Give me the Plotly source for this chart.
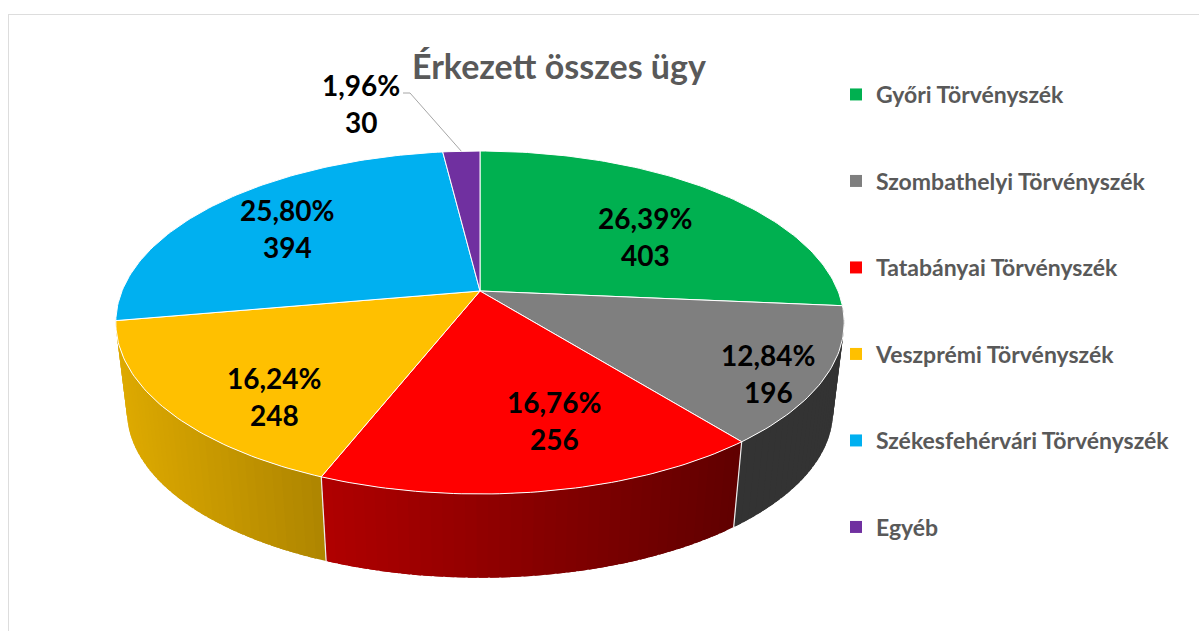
import math
import plotly.graph_objects as go

# ---- data ----
categories = ["Győri Törvényszék", "Szombathelyi Törvényszék", "Tatabányai Törvényszék",
              "Veszprémi Törvényszék", "Székesfehérvári Törvényszék", "Egyéb"]
values = [403, 196, 256, 248, 394, 30]
colors = ["#00B050", "#7F7F7F", "#FF0000", "#FFC000", "#00B0F0", "#7030A0"]
title_text = "Érkezett összes ügy"

# ---- side shading (left colour, right colour) per visible slice ----
side_shades = {1: ((0x33, 0x33, 0x33), (0x33, 0x33, 0x33)),
               2: ((0xB0, 0x00, 0x00), (0x60, 0x00, 0x00)),
               3: ((0xDE, 0xAA, 0x00), (0xAE, 0x85, 0x00))}

# ---- label anchor points, in the pixel-scaled axes ----
label_pos = [(645, 236), (768, 373), (554, 420), (274, 396), (287, 228), (361, 103)]
LABEL_GAP = 37

# ---- projection of the tilted disc ----
CX, CY = 480.0, 291.0
K = 0.1837
TOP_B, TOP_A = 358.0, 165.7
LOW_B, LOW_A, LOW_CY = 347.0, 160.6, 381.0


def project(theta, radius=1.0, lower=False):
    s, c = math.sin(theta) * radius, math.cos(theta) * radius
    w = 1 + K * c
    if lower:
        return CX + LOW_B * s / w, LOW_CY - LOW_A * c / w
    return CX + TOP_B * s / w, CY - TOP_A * c / w


total = sum(values)
edges = [0.0]
for v in values:
    edges.append(edges[-1] + v / total * 2 * math.pi)

fig = go.Figure()


def mix(a, b, t):
    t = min(1, max(0, t))
    return "rgb(%d,%d,%d)" % tuple(round(a[i] + (b[i] - a[i]) * t) for i in range(3))


# side wall: bands painted from the far slice end back so each overlaps the last seam
for idx, (left, right) in side_shades.items():
    a0, a1 = edges[idx], edges[idx + 1]
    n = max(2, int(math.degrees(a1 - a0) / 1.5))
    x_lo = project(a1)[0]
    x_hi = project(a0)[0]
    step = (a1 - a0) / n
    for j in range(n):
        t0 = a0 + step * j
        t1 = min(a1, t0 + step * 1.8)
        p = [project(t0), project(t1), project(t1, lower=True), project(t0, lower=True)]
        xs = [q[0] for q in p] + [p[0][0]]
        ys = [q[1] for q in p] + [p[0][1]]
        frac = (project(t0 + step / 2)[0] - x_lo) / (x_hi - x_lo)
        fig.add_trace(go.Scatter(x=xs, y=ys, mode="none", fill="toself",
                                 fillcolor=mix(left, right, frac), hoverinfo="skip",
                                 showlegend=False))

# white seams between the side walls
for idx in (2, 3):
    a = edges[idx]
    top, low = project(a), project(a, lower=True)
    fig.add_trace(go.Scatter(x=[top[0], low[0]], y=[top[1], low[1]], mode="lines",
                             line=dict(color="#EDEDED", width=1.2), hoverinfo="skip",
                             showlegend=False))

# top face slices
for i, name in enumerate(categories):
    a0, a1 = edges[i], edges[i + 1]
    n = max(4, int(math.degrees(a1 - a0)))
    pts = [project(a0 + (a1 - a0) * j / n) for j in range(n + 1)]
    xs = [CX] + [q[0] for q in pts] + [CX]
    ys = [CY] + [q[1] for q in pts] + [CY]
    fig.add_trace(go.Scatter(x=xs, y=ys, mode="lines", fill="toself", fillcolor=colors[i],
                             line=dict(color="white", width=1), name=name,
                             hovertemplate=name + ": %{text}<extra></extra>",
                             text=[values[i]] * len(xs), showlegend=False))

# leader line for the small slice
mid = (edges[5] + edges[6]) / 2
end = project(mid)
fig.add_trace(go.Scatter(x=[label_pos[5][0] + 42, label_pos[5][0] + 49, end[0]],
                         y=[label_pos[5][1] - 10, label_pos[5][1] - 10, end[1]],
                         mode="lines", line=dict(color="#A6A6A6", width=1), hoverinfo="skip",
                         showlegend=False))

# legend entries
for i, name in enumerate(categories):
    fig.add_trace(go.Scatter(x=[None], y=[None], mode="markers", name=name, legendgroup=name,
                             marker=dict(symbol="square", size=10, color=colors[i])))

annotations = []
for i, (x, y) in enumerate(label_pos):
    pct = ("%.2f%%" % (values[i] / total * 100)).replace(".", ",")
    for text, yy in ((pct, y - LABEL_GAP / 2), (str(values[i]), y + LABEL_GAP / 2)):
        annotations.append(dict(x=x, y=yy, xref="x", yref="y", text=text, showarrow=False,
                                xanchor="center", yanchor="middle",
                                font=dict(family="Lato", size=28, color="black", weight=700)))
annotations.append(dict(x=559, y=65, xref="x", yref="y", text=title_text, showarrow=False,
                        xanchor="center", yanchor="middle",
                        font=dict(family="Lato", size=34, color="#595959", weight=700)))

fig.update_layout(
    width=1199, height=631, margin=dict(l=0, r=0, t=0, b=0),
    paper_bgcolor="white", plot_bgcolor="white",
    xaxis=dict(range=[0, 1199], visible=False, fixedrange=True),
    yaxis=dict(range=[631, 0], visible=False, fixedrange=True),
    annotations=annotations,
    shapes=[
        dict(type="line", xref="x", yref="y", x0=8.5, x1=8.5, y0=14, y1=631,
             line=dict(color="#DDDDDD", width=1)),
        dict(type="line", xref="x", yref="y", x0=8, x1=1199, y0=14.5, y1=14.5,
             line=dict(color="#DDDDDD", width=1)),
    ],
    legend=dict(x=836 / 1199, y=1 - 73 / 631, xanchor="left", yanchor="top",
                tracegroupgap=53.6, itemsizing="constant", itemwidth=30,
                bgcolor="rgba(0,0,0,0)",
                font=dict(family="Lato", size=23, color="#595959", weight=700)),
    showlegend=True,
)

fig.write_html("out.html", config={"displayModeBar": False},
               post_script="document.body.style.margin='0';")
